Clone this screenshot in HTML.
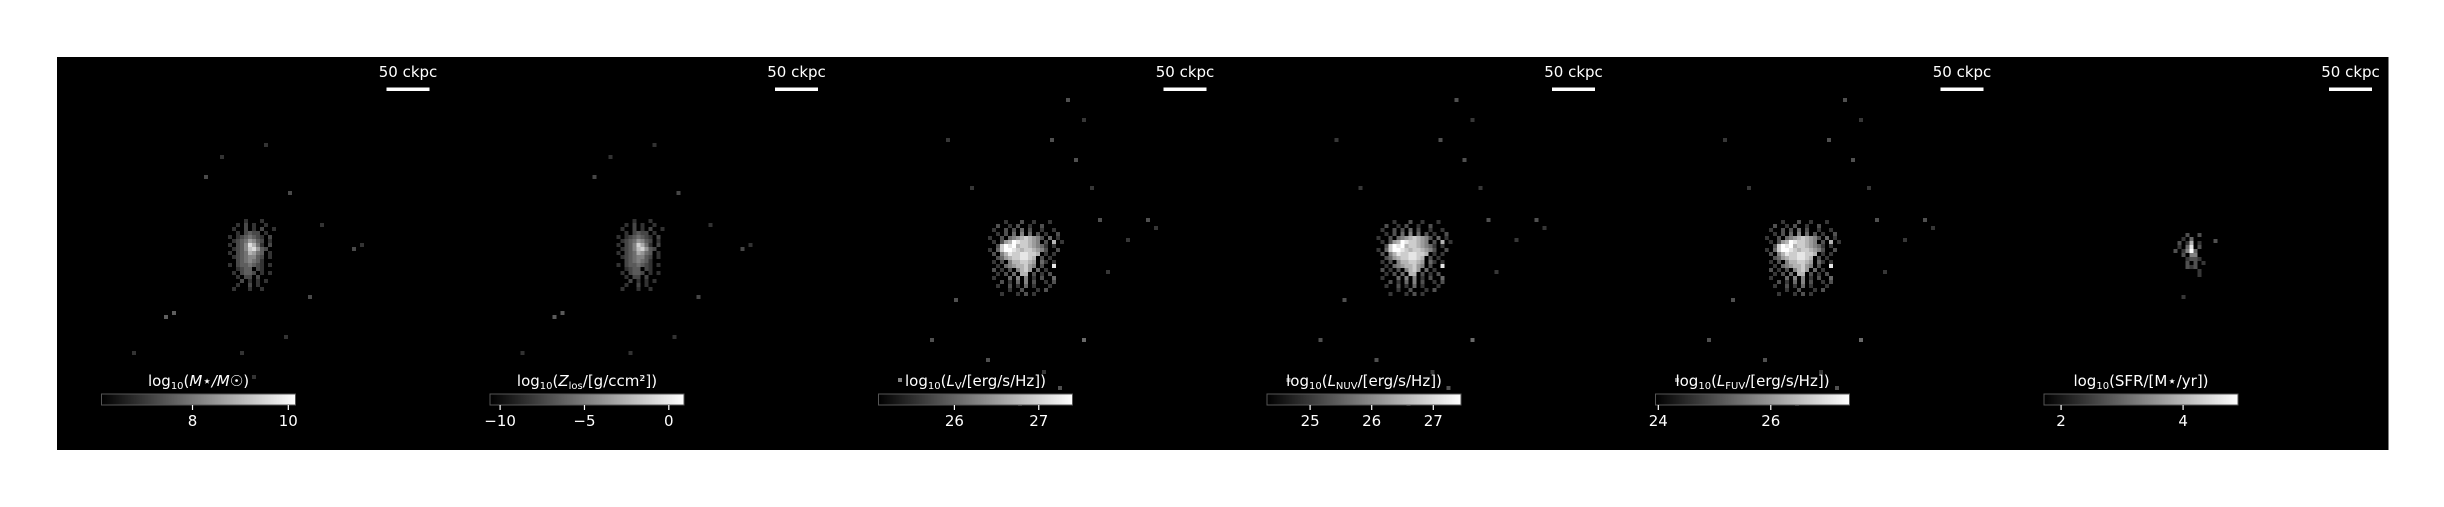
<!DOCTYPE html>
<html><head><meta charset="utf-8"><style>
html,body{margin:0;padding:0;background:#fff;width:2444px;height:507px;overflow:hidden}
svg{display:block}
text{font-family:"DejaVu Sans","Liberation Sans",sans-serif;fill:#fff}
</style></head><body>
<svg id="fig" width="2444" height="507" viewBox="0 0 2444 507" xmlns="http://www.w3.org/2000/svg"></svg>
<script>
const tickVals = [[8,10],[-10,-5,0],[26,27],[25,26,27],[24,26],[2,4]];
const cbMin = [6.1,-10.6,25.1,24.3,23.95,1.72];
const cbMax = [10.15,0.9,27.4,27.45,27.4,4.9];
const blobIdx = [0,0,1,1,1,2];
const blobGain = [0.85,0.8,1,1,1,1];
// intensity bitmaps (0-9), one char = one pixel cell
const blobA = [
"......1...1.....",
"....1.2.1..1....",
"...1..2.1.2..1..",
"....1.2322.1....",
"..1.1234321.2...",
"...12346532.1...",
"..1.2359741.2...",
"...123589632....",
"..1.2347643.1...",
"...12345532.1...",
"....2345431.....",
"..1.2334321.1...",
"....1233.21.....",
"...1.2332.1.1...",
"....1.22.2......",
".....2.1.1.1....",
"....1..2.1......",
"...1...1..1....."
];
const blobB = [
".....1...2..1...1....",
"...2..1.2..1..2......",
"..1..2.2.3.2..1..1...",
"...1.2.3.4.3.2.1..2..",
".1..2.345676542.3.1..",
"..1.2569877654.2.6.1.",
"...2798967765431.1...",
".1.3799876776542..2..",
"..2.4687788776.1.1...",
"...2356778876.2.1....",
"..1.2.4667765.31.1...",
"...1.34566754.2..8...",
"..2.1.2.4675.3.1.....",
"...1.2.3.66.2.1.2....",
"..1...3.4.4.1.2..3...",
"....2.1.3.4.2..1.2...",
"...1..2.1.3.1...1....",
"......1..2...1.2.....",
"....1...1.2.1........"
];
const blobC = [
"....2..2....",
"...1.3......",
"..2.16.1....",
"..1.38.2....",
".2.1493.....",
"...2.44.....",
"....1221....",
"....2.2.1...",
"....212.....",
".......1....",
".......1...."
];
// scattered outlying pixels [dxCell, dyCell, intensity] relative to blob centre
const scatterA = [[-12,-20,2],[-8,-25,1],[3,-28,1],[9,-16,2],[14,10,2],[-20,14,3],[-22,15,3],[8,20,1],[-3,24,1],[0,30,1],[17,-8,1],[25,-2,2],[27,-3,1],[-30,24,1]];
const scatterB = [[-20,-30,1],[10,-40,2],[14,-35,1],[12,-25,2],[16,-18,1],[18,-10,2],[20,3,1],[-18,10,2],[-24,20,2],[-10,25,2],[4,28,1],[8,32,2],[-2,36,1],[14,20,3],[-32,30,4],[25,-5,1],[30,-10,2],[32,-8,1],[-14,-18,1],[6,-30,2]];
const scatterC = [[5,-4,2],[-3,10,1]];
const blobs=[blobA,blobB,blobC];
const scatters=[scatterA,scatterB,scatterC];
const blobCx=[195,195,192,192,192,194];
const blobCy=[255,255,258,258,258,255];

const svg=document.getElementById('fig');
const NS='http://www.w3.org/2000/svg';
function mk(tag,attrs,parent){const e=document.createElementNS(NS,tag);for(const k in attrs)e.setAttribute(k,attrs[k]);(parent||svg).appendChild(e);return e;}
const X0=57,Y0=57,PW=388.5,PH=393,CS=4;
const defs=mk('defs',{});
const lg=mk('linearGradient',{id:'gray',x1:0,x2:1,y1:0,y2:0},defs);
mk('stop',{offset:0,'stop-color':'#000'},lg);mk('stop',{offset:1,'stop-color':'#fff'},lg);

function fmt(v){return v<0?'\u2212'+Math.abs(v):String(v);}
function labelMarkup(i,t){
  const sub=(txt)=>{const ts=mk('tspan',{'font-size':'10',dy:'3'},t);ts.textContent=txt;};
  const up=(txt,it)=>{const ts=mk('tspan',{dy:'-3'},t);ts.textContent=txt;if(it)ts.setAttribute('font-style','italic');};
  const plain=(txt,it)=>{const ts=mk('tspan',{},t);ts.textContent=txt;if(it)ts.setAttribute('font-style','italic');};
  const names=['','Z','L','L','L'];const subs=['','los','V','NUV','FUV'];
  const tails=['','/[g/ccm²])','/[erg/s/Hz])','/[erg/s/Hz])','/[erg/s/Hz])'];
  plain('log');sub('10');
  if(i===0){up('(');plain('M⋆/M☉',true);plain(')');}
  else if(i===5){up('(SFR/[M⋆/yr])');}
  else{up('(');plain(names[i],true);sub(subs[i]);up(tails[i]);}
}
function cell(parent,x,y,v){
  const l=Math.round(30+Math.min(1,v)*225);
  const c=mk('rect',{x:x,y:y,width:CS,height:CS,fill:`rgb(${l},${l},${l})`},parent);
  
  
}
for(let i=0;i<6;i++){
  const px=X0+i*PW;
  const g=mk('g',{});
  
  
  const bg=mk('rect',{x:px,y:Y0,width:PW+0.5,height:PH,fill:'#000'},g);
  
  
  const bm=blobs[blobIdx[i]];
  const bw=bm[0].length*CS,bh=bm.length*CS;
  const cxp=px+blobCx[i],cyp=blobCy[i];
  const ox=cxp-bw/2,oy=cyp-bh/2;
  const cg=mk('g',{},g);
  
  
  bm.forEach((row,r)=>{for(let c=0;c<row.length;c++){const ch=row[c];if(ch==='.')continue;
    cell(cg,ox+c*CS,oy+r*CS,parseInt(ch)/9*blobGain[i]);}});
  scatters[blobIdx[i]].forEach(s=>cell(cg,cxp+s[0]*CS,cyp+s[1]*CS,s[2]/9*blobGain[i]));
  const sx=px+351;
  const st=mk('text',{x:sx,y:77,'font-size':'15','text-anchor':'middle'},g);st.textContent='50 ckpc';
  
  
  const sb=mk('rect',{x:sx-21.5,y:87.5,width:43,height:3.5,fill:'#fff'},g);
  
  
  const cx0=px+44.5,cw=194,cy=394,ch=11;
  const cb=mk('rect',{x:cx0,y:cy,width:cw,height:ch,fill:'url(#gray)',stroke:'#555','stroke-width':1},g);
  
  
  const lt=mk('text',{x:cx0+cw/2,y:386,'font-size':'15','text-anchor':'middle'},g);
  
  
  labelMarkup(i,lt);
  const sc=v=>cx0+(v-cbMin[i])/(cbMax[i]-cbMin[i])*cw;
  tickVals[i].forEach(v=>{const x=sc(v);
    const tk=mk('line',{x1:x,x2:x,y1:cy+ch,y2:cy+ch+5,stroke:'#fff','stroke-width':1.2},g);
    
    
    const tl=mk('text',{x:x,y:426,'font-size':'15','text-anchor':'middle'},g);tl.textContent=fmt(v);
    
    });
}
</script>
</body></html>
